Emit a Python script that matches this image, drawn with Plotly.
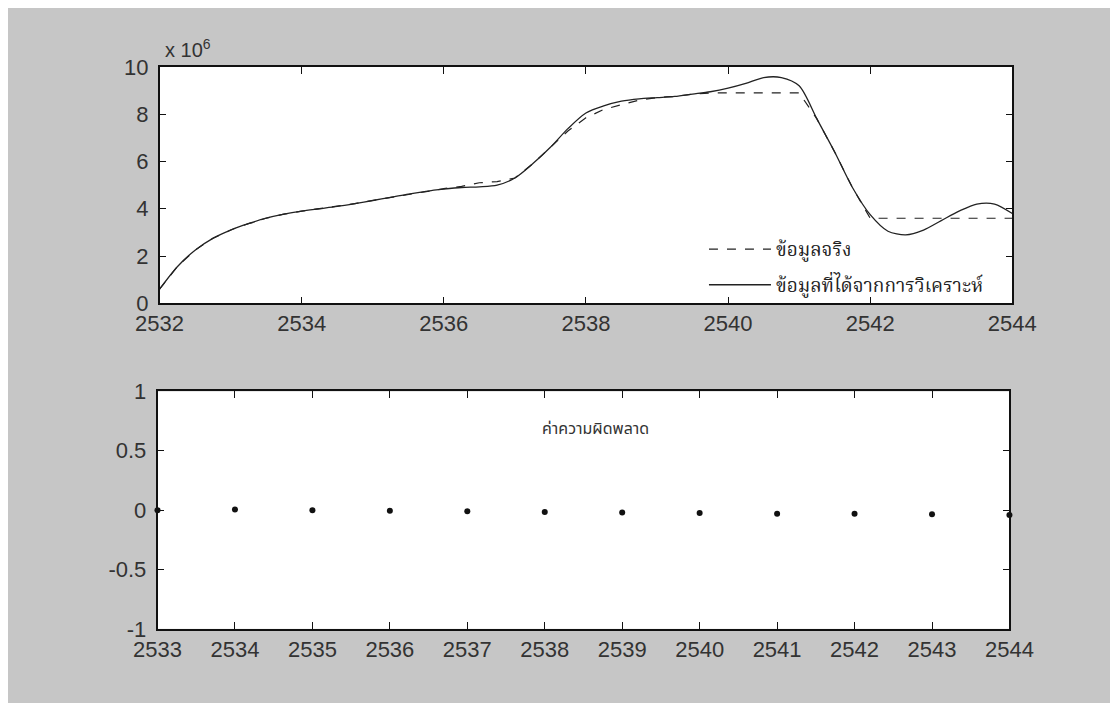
import plotly.graph_objects as go

# ---- data ----
years_fine = [2532 + 0.25 * i for i in range(49)]
fitted = [0.6, 1.55, 2.25, 2.75, 3.1, 3.37, 3.6, 3.77, 3.9, 4.0, 4.1, 4.22,
          4.35, 4.48, 4.62, 4.74, 4.83, 4.9, 4.93, 5.0, 5.3, 5.9, 6.6, 7.4,
          8.05, 8.35, 8.55, 8.65, 8.7, 8.75, 8.85, 8.95, 9.1, 9.3, 9.55, 9.55,
          9.2, 7.8, 6.4, 4.9, 3.75, 3.05, 2.9, 3.1, 3.5, 3.9, 4.2, 4.2, 3.8]
actual = [0.6, 1.55, 2.25, 2.75, 3.1, 3.37, 3.6, 3.77, 3.9, 4.0, 4.1, 4.22,
          4.35, 4.48, 4.62, 4.74, 4.85, 4.95, 5.1, 5.15, 5.3, 5.9, 6.6, 7.3,
          7.85, 8.2, 8.4, 8.6, 8.7, 8.75, 8.85, 8.9, 8.9, 8.9, 8.9, 8.9,
          8.9, 7.8, 6.4, 4.9, 3.6, 3.6, 3.6, 3.6, 3.6, 3.6, 3.6, 3.6, 3.6]

err_years = [2533, 2534, 2535, 2536, 2537, 2538, 2539, 2540, 2541, 2542, 2543, 2544]
err_vals = [0.0, 0.005, 0.0, -0.005, -0.01, -0.015, -0.02, -0.025, -0.03, -0.03, -0.035, -0.04]

top_xticks = [2532, 2534, 2536, 2538, 2540, 2542, 2544]
top_yticks = [0, 2, 4, 6, 8, 10]
bot_xticks = list(range(2533, 2545))
bot_yticks = [-1, -0.5, 0, 0.5, 1]
bot_ytext = ["-1", "-0.5", "0", "0.5", "1"]

name_actual = "ข้อมูลจริง"
name_fit = "ข้อมูลที่ได้จากการวิเคราะห์"
err_label = "ค่าความผิดพลาด"

# ---- figure ----
fig = go.Figure()
fig.add_trace(go.Scatter(x=years_fine, y=actual, mode="lines", name=name_actual,
                         legendgroup="a",
                         line=dict(color="#222", width=1.2, dash="dash"),
                         xaxis="x", yaxis="y"))
fig.add_trace(go.Scatter(x=years_fine, y=fitted, mode="lines", name=name_fit,
                         legendgroup="b",
                         line=dict(color="#222", width=1.3, shape="spline", smoothing=0.8),
                         xaxis="x", yaxis="y"))
fig.add_trace(go.Scatter(x=err_years, y=err_vals, mode="markers", showlegend=False,
                         marker=dict(color="#111", size=6),
                         xaxis="x2", yaxis="y2", cliponaxis=False))

tickfont = dict(family="Liberation Sans, Arial, sans-serif", size=22, color="#333")
axis_common = dict(showline=True, linecolor="#111", linewidth=1.5, mirror="ticks",
                   ticks="inside", ticklen=7, tickcolor="#111", showgrid=False,
                   zeroline=False, tickfont=tickfont)

fig.update_layout(
    width=1118, height=703,
    margin=dict(l=0, r=0, t=0, b=0),
    paper_bgcolor="#c6c6c6",
    plot_bgcolor="#ffffff",
    xaxis=dict(domain=[0.1192, 0.9162], anchor="y", range=[2532, 2544],
               tickvals=top_xticks, ticktext=[str(v) for v in top_xticks], **axis_common),
    yaxis=dict(domain=[0.5821, 0.9308], anchor="x", range=[0, 10],
               tickvals=top_yticks, ticktext=[str(v) for v in top_yticks],
               ticklabelstandoff=5, **axis_common),
    xaxis2=dict(domain=[0.1173, 0.9135], anchor="y2", range=[2533, 2544],
                tickvals=bot_xticks, ticktext=[str(v) for v in bot_xticks], **axis_common),
    yaxis2=dict(domain=[0.1020, 0.4522], anchor="x2", range=[-1, 1],
                tickvals=bot_yticks, ticktext=bot_ytext,
                ticklabelstandoff=5, **axis_common),
    showlegend=True,
    legend=dict(x=0.628, y=0.690, xanchor="left", yanchor="top",
                bgcolor="rgba(0,0,0,0)", borderwidth=0,
                font=dict(family="Noto Serif Thai, Noto Sans Thai, serif", size=19, color="#222"),
                tracegroupgap=8, itemwidth=62),
    annotations=[
        dict(text="x 10<sup>6</sup>", xref="paper", yref="paper", x=0.122, y=0.936,
             xanchor="left", yanchor="bottom", showarrow=False,
             font=dict(family="Liberation Sans, Arial, sans-serif", size=20, color="#333")),
        dict(text=err_label, xref="x2", yref="y2", x=2538.66, y=0.68,
             xanchor="center", yanchor="middle", showarrow=False,
             font=dict(family="Noto Sans Thai, Noto Sans, sans-serif", size=16, color="#333")),
    ],
)

fig.write_html("out.html")
